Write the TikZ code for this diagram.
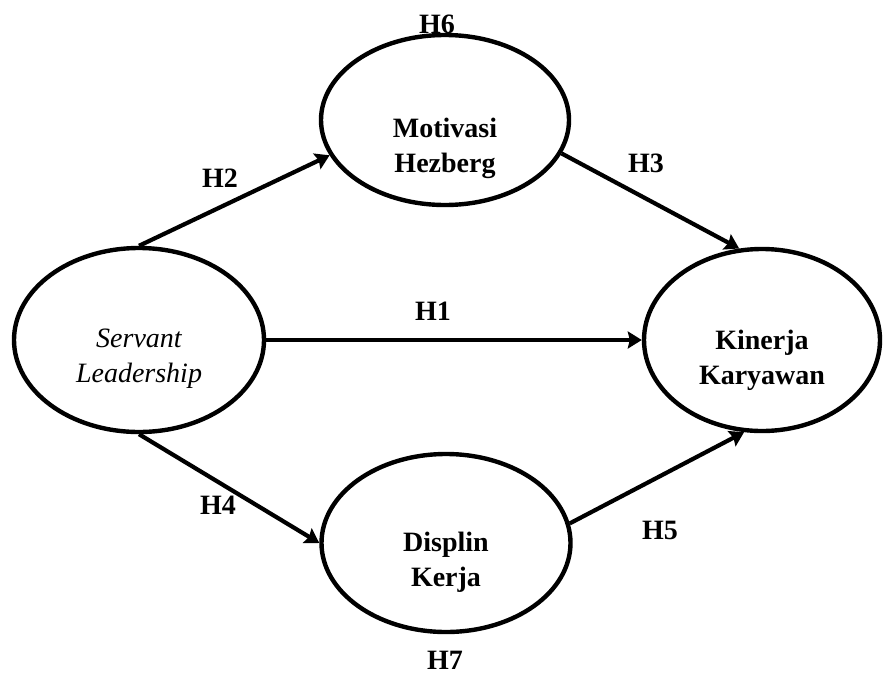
\documentclass[tikz,border=0pt]{standalone}
\usepackage{fontspec}
\setmainfont{Liberation Serif}
\usepackage{tikz}
\usetikzlibrary{shapes.geometric, arrows.meta}

\tikzset{
	var/.style={draw=black, line width=4.4pt, ellipse, inner sep=0pt},
	vartext/.style={font=\fontsize{28}{35}\selectfont\bfseries, align=center},
	hlabel/.style={font=\fontsize{28}{34}\selectfont\bfseries},
	path/.style={line width=4.2pt, -{Stealth[length=14pt, width=17pt, inset=2pt]}}
}

\begin{document}
\begin{tikzpicture}[x=1pt, y=-1pt]
			\useasboundingbox (0,0) rectangle (885,675);
			% Variabel / Variables
			\node[var, minimum width=250pt, minimum height=184pt] (sl) at (139,340) {};
			\node[var, minimum width=248pt, minimum height=170pt] (mh) at (445,120) {};
			\node[var, minimum width=236pt, minimum height=182pt] (kk) at (762,340) {};
			\node[var, minimum width=249pt, minimum height=178pt] (dk) at (446,543) {};
			% Teks / Texts
			\node[vartext, font=\fontsize{28}{35}\selectfont\itshape] (sl-text) at ([yshift=-19pt]sl.center) {Servant\\Leadership};
			\node[vartext] (mh-text) at ([yshift=-28pt]mh.center) {Motivasi\\Hezberg};
			\node[vartext] (kk-text) at ([yshift=-20pt]kk.center) {Kinerja\\Karyawan};
			\node[vartext] (dk-text) at ([yshift=-19pt]dk.center) {Displin\\Kerja};
			% Panah / Paths
			\draw[path] (sl.north) -- (mh.197);
			\draw[path] (sl.east) -- (kk.west);
			\draw[path] (mh.-16) -- (kk.104);
			\draw[path] (sl.south) -- (dk.west);
			\draw[path] (dk.9) -- (kk.-101);
			% Hipotesis / Hypotheses
			\node[hlabel] (h1) at (433,311) {H1};
			\node[hlabel] (h2) at (220,178) {H2};
			\node[hlabel] (h3) at (646,163) {H3};
			\node[hlabel] (h4) at (218,505) {H4};
			\node[hlabel] (h5) at (660,530) {H5};
			\node[hlabel] (h6) at (437,24) {H6};
			\node[hlabel] (h7) at (445,660) {H7};
\end{tikzpicture}
\end{document}
